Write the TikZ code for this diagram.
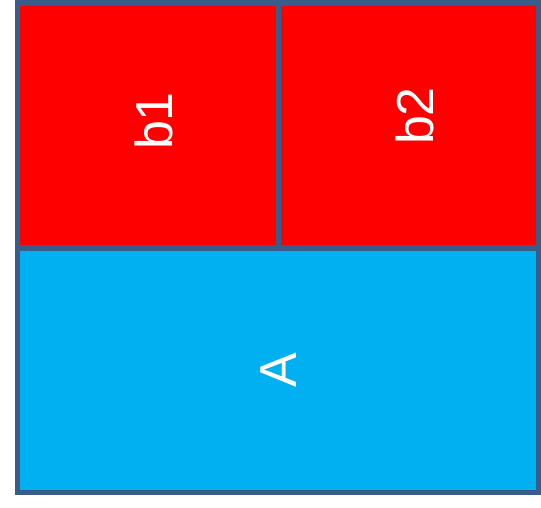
\documentclass[tikz,border=0pt]{standalone}
\usepackage{fontspec}
\setmainfont{Liberation Sans}
\usetikzlibrary{positioning}

\begin{document}
\begin{tikzpicture}[x=0.75pt,y=-0.75pt,
 part/.style={draw=frame,line width=4pt,inner sep=0pt,outer sep=0pt},
 small/.style={part,fill=red,minimum width=195.4pt,minimum height=183.75pt},
 big/.style={part,fill=sky,minimum width=390.75pt,minimum height=183.4pt},
 tag/.style={rotate=90,text=white,inner sep=0pt,font=\fontsize{39}{46}\selectfont}]
\definecolor{frame}{HTML}{385D8A}
\definecolor{sky}{HTML}{00B0F0}
\useasboundingbox (0,0) rectangle (541,507);
\node[small] (b1) at (148,125.5) {};
\node[small,right=0pt of b1] (b2) {};
\node[big] (A) at (278,370.25) {};
% labels, set a little off centre as in the slide
\node[tag] (b1txt) at ([shift={(6,-4.5)}]b1.center) {b1};
\node[tag] (b2txt) at ([shift={(6.25,-9.5)}]b2.center) {b2};
\node[tag] (Atxt) at ([shift={(0.5,0)}]A.center) {A};
\end{tikzpicture}
\end{document}
